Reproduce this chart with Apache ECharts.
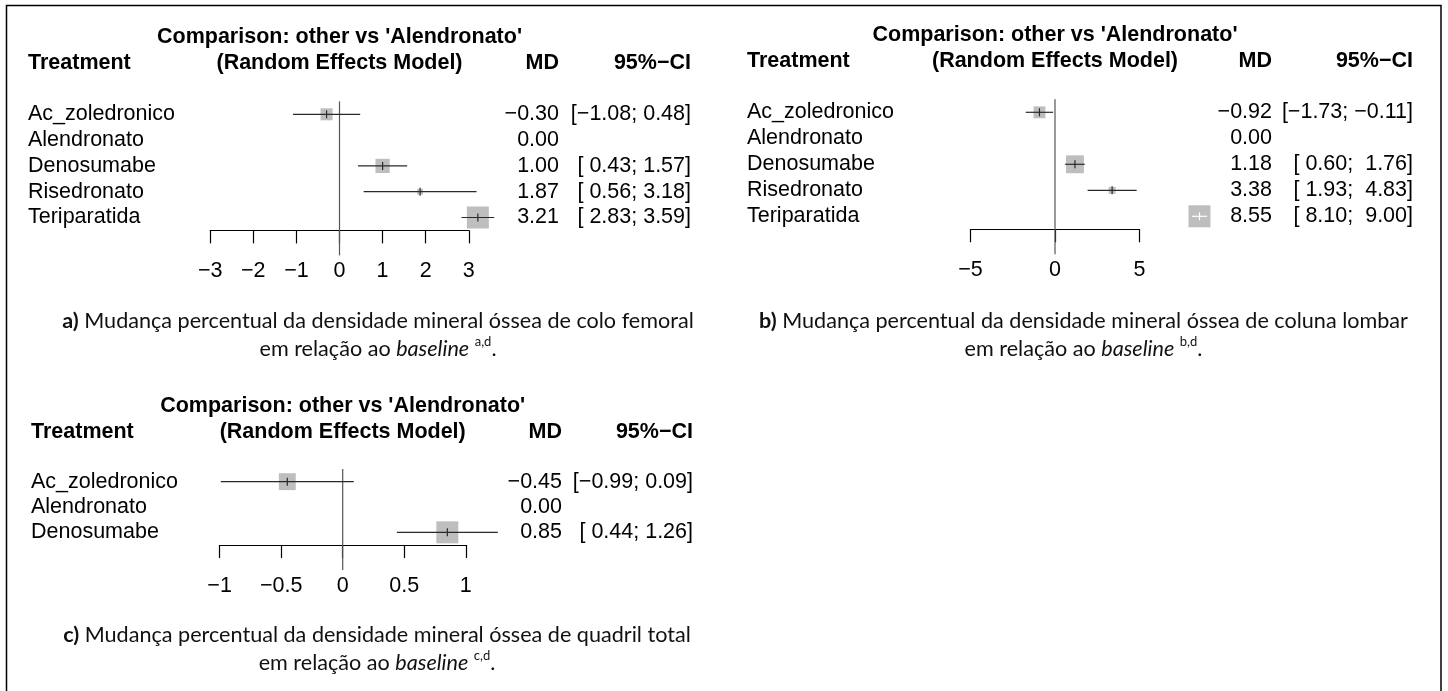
<!DOCTYPE html>
<html>
<head>
<meta charset="utf-8">
<script src="https://cdn.jsdelivr.net/npm/echarts@6/dist/echarts.min.js"></script>
<style>
  html, body { margin: 0; padding: 0; background: #ffffff; }
  #chart { width: 1448px; height: 691px; }
</style>
</head>
<body>
<div id="chart"></div>
<script>
// ---- Data: network meta-analysis, mean difference vs 'Alendronato' ----

// a) femoral neck
const treatmentsA = ['Ac_zoledronico', 'Alendronato', 'Denosumabe', 'Risedronato', 'Teriparatida'];
const mdA = [-0.30, 0.00, 1.00, 1.87, 3.21];
const lowerA = [-1.08, null, 0.43, 0.56, 2.83];
const upperA = [0.48, null, 1.57, 3.18, 3.59];
const weightA = [30, null, 42, 7, 100];
const ticksA = [-3, -2, -1, 0, 1, 2, 3];

// b) lumbar spine
const treatmentsB = ['Ac_zoledronico', 'Alendronato', 'Denosumabe', 'Risedronato', 'Teriparatida'];
const mdB = [-0.92, 0.00, 1.18, 3.38, 8.55];
const lowerB = [-1.73, null, 0.60, 1.93, 8.10];
const upperB = [-0.11, null, 1.76, 4.83, 9.00];
const weightB = [29, null, 66, 10, 100];
const ticksB = [-5, 0, 5];

// c) total hip
const treatmentsC = ['Ac_zoledronico', 'Alendronato', 'Denosumabe'];
const mdC = [-0.45, 0.00, 0.85];
const lowerC = [-0.99, null, 0.44];
const upperC = [0.09, null, 1.26];
const weightC = [59, null, 100];
const ticksC = [-1, -0.5, 0, 0.5, 1];

// ---- Texts ----
const comparisonTitle = "Comparison: other vs 'Alendronato'";
const headTreatment = 'Treatment';
const headModel = '(Random Effects Model)';
const headMD = 'MD';
const headCI = '95%\u2212CI';

const captionsA = ['a)', 'Mudança percentual da densidade mineral óssea de colo femoral', 'a,d'];
const captionsB = ['b)', 'Mudança percentual da densidade mineral óssea de coluna lombar', 'b,d'];
const captionsC = ['c)', 'Mudança percentual da densidade mineral óssea de quadril total', 'c,d'];

// ---- Layout and style ----
const FONT_FAMILY = '"Liberation Sans", Arial, sans-serif';
const FONT_SIZE = 21.5;
const CAP_FAMILY = 'Lato, "Open Sans", sans-serif';
const CAP_SIZE = 21.6;
const BOX_MAX = 22;
const BOX_COLOR = '#bebebe';
const LINE_COLOR = '#2a2a2a';

const panels = [
  { treat: treatmentsA, md: mdA, lo: lowerA, hi: upperA, w: weightA, ticks: ticksA, cap: captionsA,
    grid: { left: 210.2, top: 101.4, width: 258.6, height: 129 },
    nameX: 28, mdX: 559, ciX: 691, titleY: 37, headY: 63, capX: 378, capY: [321, 349] },
  { treat: treatmentsB, md: mdB, lo: lowerB, hi: upperB, w: weightB, ticks: ticksB, cap: captionsB,
    grid: { left: 970.5, top: 99.3, width: 169, height: 130 },
    nameX: 747, mdX: 1272, ciX: 1413, titleY: 35, headY: 61, capX: 1083.5, capY: [321, 349] },
  { treat: treatmentsC, md: mdC, lo: lowerC, hi: upperC, w: weightC, ticks: ticksC, cap: captionsC,
    grid: { left: 219.6, top: 469, width: 246.2, height: 76 },
    nameX: 31, mdX: 562, ciX: 693, titleY: 406, headY: 432, capX: 377, capY: [635, 663] }
];

const MINUS = '\u2212';
function fmt2(v) { return (v < 0 ? MINUS : '') + Math.abs(v).toFixed(2); }
function fmtTick(v) { return String(v).replace('-', MINUS); }
function padLeft(s, n) { while (s.length < n) s = ' ' + s; return s; }

function textEl(str, x, y, align, bold) {
  return {
    type: 'text',
    style: {
      text: str, x: x, y: y,
      align: align, textAlign: align,
      verticalAlign: 'middle', textVerticalAlign: 'middle',
      fontFamily: FONT_FAMILY, fontSize: FONT_SIZE, fontWeight: bold ? 'bold' : 'normal',
      fill: '#000000'
    }
  };
}

const grids = [], xAxes = [], yAxes = [], series = [], graphics = [];

panels.forEach(function (P, k) {
  const tmin = P.ticks[0], tmax = P.ticks[P.ticks.length - 1];
  grids.push(Object.assign({ containLabel: false }, P.grid));

  xAxes.push({
    type: 'value', gridIndex: k, position: 'bottom',
    min: tmin, max: tmax, interval: P.ticks[1] - P.ticks[0],
    splitLine: { show: false },
    axisLine: { show: true, onZero: false, lineStyle: { color: '#000', width: 1.2 } },
    axisTick: { show: true, length: 13, lineStyle: { color: '#000', width: 1.2 } },
    axisLabel: {
      margin: 30, color: '#000', fontFamily: FONT_FAMILY, fontSize: FONT_SIZE,
      showMinLabel: true, showMaxLabel: true, formatter: fmtTick
    }
  });

  yAxes.push({
    type: 'category', gridIndex: k, data: P.treat, inverse: true,
    axisLine: { show: false }, axisTick: { show: false }, splitLine: { show: false },
    axisLabel: {
      interval: 0, align: 'left', margin: P.grid.left - P.nameX,
      color: '#000', fontFamily: FONT_FAMILY, fontSize: FONT_SIZE
    }
  });

  // reference line at zero, running past the axis
  series.push({
    type: 'custom', xAxisIndex: k, yAxisIndex: k, clip: false, silent: true, z: 1,
    data: [[0, 0]], encode: { x: 0, y: 1 },
    renderItem: function (params, api) {
      const x = api.coord([0, 0])[0];
      const cs = params.coordSys;
      return {
        type: 'line',
        shape: { x1: x, y1: cs.y, x2: x, y2: cs.y + cs.height + 25 },
        style: { stroke: '#555555', lineWidth: 1.2 }
      };
    }
  });

  const maxW = Math.max.apply(null, P.w.filter(function (v) { return v != null; }));
  const loStr = P.lo.map(function (v) { return v == null ? '' : fmt2(v); });
  const hiStr = P.hi.map(function (v) { return v == null ? '' : fmt2(v); });
  const loLen = Math.max.apply(null, loStr.map(function (s) { return s.length; }));
  const hiLen = Math.max.apply(null, hiStr.map(function (s) { return s.length; }));

  // boxes, confidence intervals and the MD / CI columns
  series.push({
    type: 'custom', xAxisIndex: k, yAxisIndex: k, clip: false, silent: true, z: 2,
    data: P.md.map(function (v, i) { return [v, i]; }), encode: { x: 0, y: 1 },
    renderItem: function (params, api) {
      const i = params.dataIndex;
      const c = api.coord([P.md[i], i]);
      const cx = c[0], cy = c[1];
      const children = [];
      if (P.lo[i] != null) {
        const s = BOX_MAX * Math.sqrt(P.w[i] / maxW);
        const xl = api.coord([P.lo[i], i])[0];
        const xh = api.coord([P.hi[i], i])[0];
        const col = (xh - xl) <= s ? '#ffffff' : LINE_COLOR;
        children.push({ type: 'rect', shape: { x: cx - s / 2, y: cy - s / 2, width: s, height: s },
          style: { fill: BOX_COLOR } });
        children.push({ type: 'line', shape: { x1: xl, y1: cy, x2: xh, y2: cy },
          style: { stroke: col, lineWidth: 1.2 } });
        children.push({ type: 'line', shape: { x1: cx, y1: cy - 4, x2: cx, y2: cy + 4 },
          style: { stroke: col, lineWidth: 1.2 } });
        children.push(textEl('[' + padLeft(loStr[i], loLen) + '; ' + padLeft(hiStr[i], hiLen) + ']',
          P.ciX, cy, 'right', false));
      }
      children.push(textEl(fmt2(P.md[i]), P.mdX, cy, 'right', false));
      return { type: 'group', children: children };
    }
  });

  // column headers
  const zeroX = P.grid.left + (0 - tmin) / (tmax - tmin) * P.grid.width;
  graphics.push(textEl(comparisonTitle, zeroX, P.titleY, 'center', true));
  graphics.push(textEl(headTreatment, P.nameX, P.headY, 'left', true));
  graphics.push(textEl(headModel, zeroX, P.headY, 'center', true));
  graphics.push(textEl(headMD, P.mdX, P.headY, 'right', true));
  graphics.push(textEl(headCI, P.ciX, P.headY, 'right', true));

  // caption below the panel
  const tok = function (weight, style, size) {
    return { fontFamily: CAP_FAMILY, fontSize: size, fontWeight: weight, fontStyle: style, fill: '#111111' };
  };
  const capRich = {
    b: tok('bold', 'normal', CAP_SIZE),
    n: tok('normal', 'normal', CAP_SIZE),
    i: tok('normal', 'italic', CAP_SIZE),
    s: Object.assign(tok('normal', 'normal', 13), { verticalAlign: 'top' })
  };
  graphics.push({
    type: 'text',
    style: {
      text: '{b|' + P.cap[0] + '}{n| ' + P.cap[1] + '}',
      rich: capRich, x: P.capX, y: P.capY[0],
      align: 'center', textAlign: 'center', verticalAlign: 'middle', textVerticalAlign: 'middle',
      fontFamily: CAP_FAMILY, fontSize: CAP_SIZE, fill: '#111111'
    }
  });
  graphics.push({
    type: 'text',
    style: {
      text: '{n|em relação ao }{i|baseline}{n| }{s|' + P.cap[2] + '}{n|.}',
      rich: capRich, x: P.capX, y: P.capY[1], lineHeight: 28,
      align: 'center', textAlign: 'center', verticalAlign: 'middle', textVerticalAlign: 'middle',
      fontFamily: CAP_FAMILY, fontSize: CAP_SIZE, fill: '#111111'
    }
  });
});

// outer frame
graphics.push({
  type: 'rect', silent: true,
  shape: { x: 6.5, y: 5.5, width: 1434.5, height: 720 },
  style: { fill: 'none', stroke: '#000000', lineWidth: 1.5 }
});

const chart = echarts.init(document.getElementById('chart'), null, { renderer: 'canvas' });
chart.setOption({
  animation: false,
  backgroundColor: '#ffffff',
  grid: grids,
  xAxis: xAxes,
  yAxis: yAxes,
  series: series,
  graphic: { elements: graphics }
});
</script>
</body>
</html>
